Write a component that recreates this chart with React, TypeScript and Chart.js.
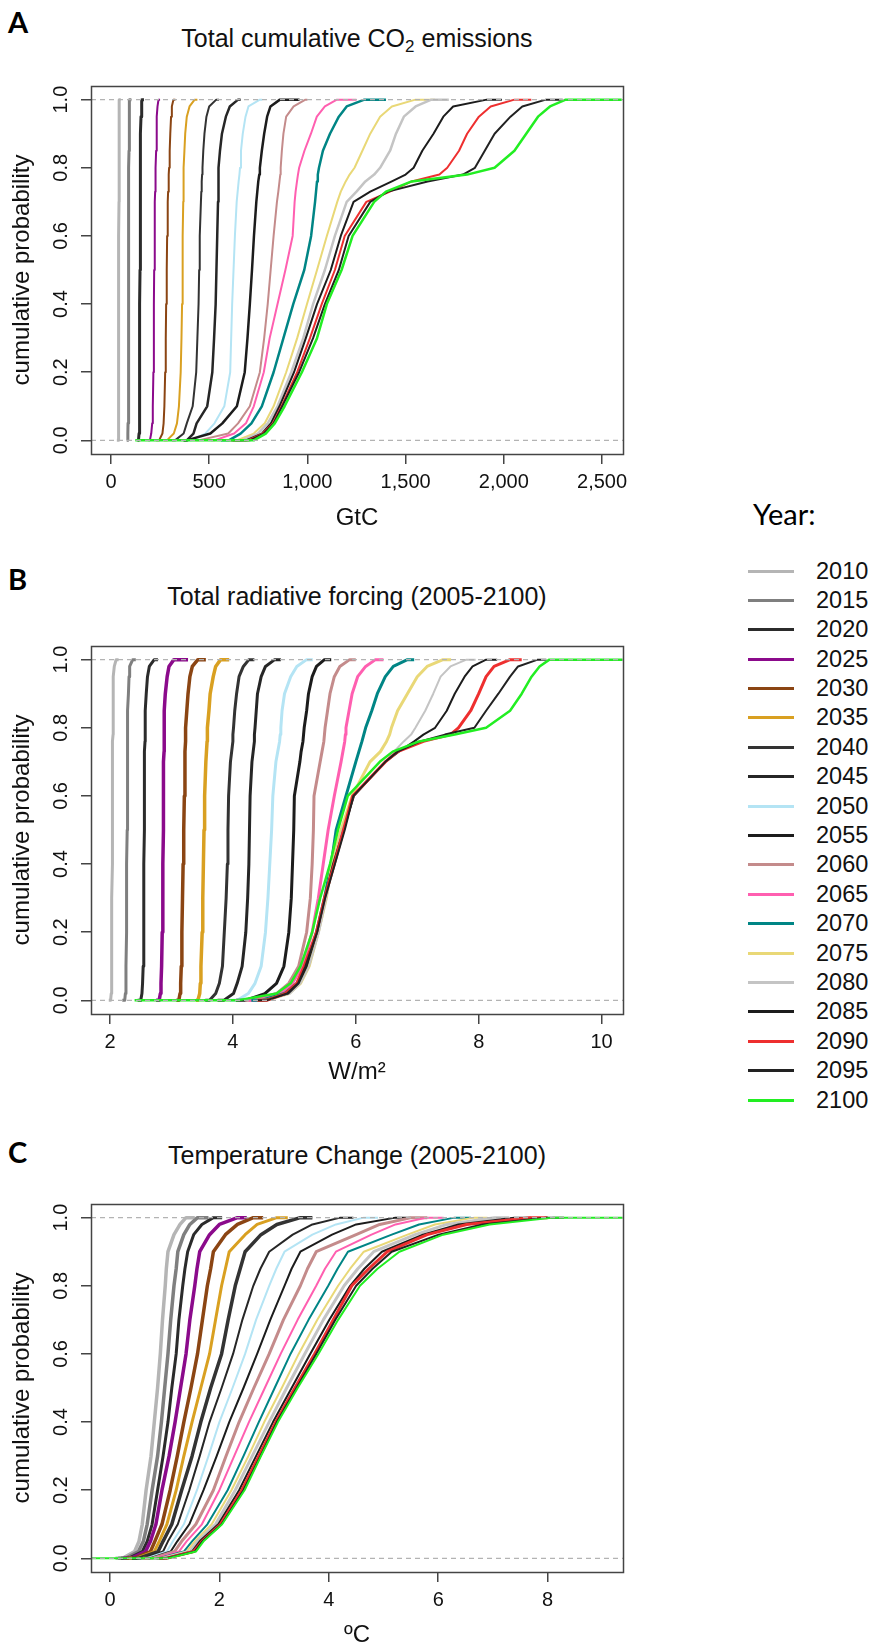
import React, { useEffect, useRef } from 'react';
import { Chart, registerables } from 'chart.js';

Chart.register(...registerables);
Chart.defaults.font.family = "'Liberation Sans', Arial, sans-serif";

// ---------- data ----------
const years = [2010, 2015, 2020, 2025, 2030, 2035, 2040, 2045, 2050, 2055, 2060, 2065, 2070, 2075, 2080, 2085, 2090, 2095, 2100];

// probability levels at which each curve's x value was read (first/last pair = horizontal tails)
const probLevelsAB = [0, 0, 0.02, 0.05, 0.1, 0.2, 0.3, 0.4, 0.5, 0.6, 0.7, 0.73, 0.76, 0.78, 0.8, 0.85, 0.9, 0.95, 0.98, 1, 1];
const probLevelsC = [0, 0, 0.02, 0.05, 0.1, 0.2, 0.3, 0.4, 0.5, 0.6, 0.7, 0.8, 0.85, 0.9, 0.95, 0.98, 1, 1];

// A: total cumulative CO2 emissions (GtC)
const emissionsGtC = [
  [30, 36, 37, 38, 38, 39, 39, 40, 40, 40, 41, 41, 41, 41, 41, 42, 42, 42, 43, 44, 50],
  [80, 84, 86, 87, 88, 88, 89, 89, 90, 90, 90, 91, 91, 91, 91, 92, 92, 93, 94, 96, 104],
  [135, 140, 143, 144, 145, 146, 147, 147, 148, 148, 149, 149, 150, 150, 150, 151, 152, 153, 155, 158, 168],
  [190, 198, 205, 210, 213, 216, 218, 219, 220, 222, 224, 225, 226, 227, 228, 230, 232, 234, 237, 242, 250],
  [230, 245, 262, 268, 272, 276, 279, 281, 284, 286, 289, 291, 293, 295, 296, 299, 302, 306, 310, 318, 328],
  [270, 285, 320, 336, 346, 355, 359, 362, 364, 366, 368, 369, 369, 370, 371, 374, 378, 386, 400, 426, 440],
  [310, 326, 370, 386, 416, 434, 440, 446, 449, 452, 458, 460, 462, 464, 466, 470, 476, 486, 500, 536, 550],
  [370, 386, 420, 436, 490, 516, 525, 533, 537, 541, 545, 546, 547, 548, 549, 555, 565, 585, 605, 647, 660],
  [390, 406, 480, 527, 577, 607, 612, 617, 624, 631, 640, 645, 650, 654, 657, 662, 671, 685, 700, 758, 770],
  [370, 386, 506, 567, 641, 681, 695, 707, 718, 728, 740, 745, 750, 755, 758, 768, 780, 795, 812, 860, 960],
  [430, 446, 597, 647, 707, 758, 780, 798, 813, 828, 845, 852, 858, 862, 864, 870, 878, 892, 930, 990, 1000],
  [510, 527, 627, 687, 727, 778, 808, 848, 888, 925, 935, 940, 947, 952, 958, 985, 1018, 1048, 1089, 1150, 1250],
  [560, 600, 660, 715, 768, 828, 878, 928, 984, 1019, 1039, 1044, 1049, 1053, 1059, 1079, 1115, 1160, 1200, 1290, 1400],
  [590, 640, 727, 783, 828, 892, 948, 998, 1049, 1099, 1152, 1170, 1195, 1215, 1240, 1280, 1320, 1370, 1430, 1550, 1650],
  [600, 667, 748, 798, 848, 918, 979, 1029, 1089, 1140, 1200, 1250, 1295, 1340, 1370, 1421, 1451, 1491, 1551, 1631, 1720],
  [610, 687, 768, 814, 858, 932, 992, 1049, 1119, 1170, 1235, 1320, 1430, 1500, 1541, 1585, 1642, 1692, 1742, 1913, 1990],
  [615, 697, 772, 824, 868, 948, 1013, 1073, 1140, 1190, 1300, 1420, 1531, 1672, 1712, 1772, 1813, 1873, 1933, 2054, 2140],
  [620, 707, 778, 828, 872, 958, 1029, 1089, 1160, 1210, 1320, 1410, 1612, 1792, 1853, 1903, 1953, 2034, 2094, 2214, 2300],
  [124, 727, 788, 834, 884, 972, 1049, 1099, 1174, 1230, 1340, 1400, 1531, 1813, 1953, 2054, 2114, 2174, 2235, 2315, 2600],
];

// B: total radiative forcing (W/m2)
const forcingWm2 = [
  [1.98, 2.01, 2.02, 2.02, 2.03, 2.03, 2.03, 2.04, 2.04, 2.04, 2.04, 2.04, 2.04, 2.05, 2.05, 2.05, 2.05, 2.06, 2.07, 2.10, 2.14],
  [2.20, 2.24, 2.25, 2.26, 2.26, 2.27, 2.27, 2.27, 2.28, 2.28, 2.28, 2.28, 2.29, 2.29, 2.29, 2.29, 2.30, 2.31, 2.32, 2.37, 2.42],
  [2.45, 2.50, 2.52, 2.53, 2.54, 2.55, 2.55, 2.55, 2.56, 2.56, 2.56, 2.56, 2.57, 2.57, 2.57, 2.58, 2.59, 2.61, 2.64, 2.72, 2.78],
  [2.75, 2.80, 2.82, 2.83, 2.84, 2.85, 2.86, 2.86, 2.87, 2.87, 2.87, 2.88, 2.88, 2.88, 2.88, 2.89, 2.90, 2.93, 2.96, 3.04, 3.27],
  [3.08, 3.12, 3.14, 3.15, 3.16, 3.17, 3.18, 3.19, 3.20, 3.21, 3.22, 3.22, 3.23, 3.23, 3.23, 3.25, 3.27, 3.30, 3.34, 3.43, 3.56],
  [3.40, 3.43, 3.46, 3.47, 3.48, 3.50, 3.51, 3.52, 3.53, 3.54, 3.56, 3.57, 3.58, 3.58, 3.59, 3.61, 3.63, 3.68, 3.72, 3.80, 3.94],
  [3.55, 3.62, 3.72, 3.78, 3.83, 3.86, 3.89, 3.91, 3.92, 3.93, 3.96, 3.98, 4.00, 4.00, 4.01, 4.03, 4.06, 4.10, 4.17, 4.26, 4.35],
  [3.75, 3.85, 4.01, 4.07, 4.15, 4.21, 4.24, 4.26, 4.27, 4.28, 4.31, 4.33, 4.35, 4.35, 4.36, 4.38, 4.40, 4.46, 4.53, 4.68, 4.78],
  [3.95, 4.07, 4.25, 4.36, 4.46, 4.53, 4.57, 4.60, 4.63, 4.65, 4.70, 4.73, 4.76, 4.77, 4.78, 4.80, 4.84, 4.94, 5.04, 5.20, 5.30],
  [4.05, 4.20, 4.52, 4.71, 4.83, 4.91, 4.95, 4.97, 4.99, 5.00, 5.09, 5.11, 5.14, 5.15, 5.16, 5.20, 5.23, 5.29, 5.36, 5.49, 5.60],
  [4.20, 4.33, 4.71, 4.91, 5.07, 5.20, 5.26, 5.29, 5.31, 5.32, 5.42, 5.45, 5.48, 5.49, 5.50, 5.54, 5.58, 5.65, 5.74, 5.90, 6.00],
  [4.25, 4.39, 4.78, 4.97, 5.13, 5.29, 5.39, 5.47, 5.55, 5.65, 5.76, 5.79, 5.82, 5.83, 5.84, 5.89, 5.94, 6.03, 6.16, 6.32, 6.45],
  [4.30, 4.46, 4.84, 5.04, 5.20, 5.36, 5.49, 5.60, 5.68, 5.84, 6.00, 6.05, 6.10, 6.13, 6.16, 6.26, 6.35, 6.48, 6.61, 6.84, 6.95],
  [4.40, 4.52, 4.91, 5.10, 5.24, 5.39, 5.52, 5.61, 5.76, 5.94, 6.23, 6.40, 6.50, 6.55, 6.58, 6.68, 6.84, 7.00, 7.16, 7.42, 7.55],
  [4.45, 4.55, 4.93, 5.10, 5.24, 5.40, 5.52, 5.63, 5.78, 5.97, 6.48, 6.62, 6.78, 6.90, 6.97, 7.13, 7.26, 7.38, 7.54, 7.80, 7.95],
  [4.40, 4.50, 4.90, 5.07, 5.20, 5.37, 5.49, 5.63, 5.80, 5.97, 6.48, 6.70, 6.95, 7.10, 7.29, 7.48, 7.61, 7.77, 7.90, 8.12, 8.30],
  [4.40, 4.55, 4.85, 5.04, 5.16, 5.36, 5.49, 5.65, 5.80, 5.95, 6.48, 6.68, 7.10, 7.54, 7.67, 7.87, 8.00, 8.12, 8.25, 8.51, 8.70],
  [4.40, 4.55, 4.88, 5.06, 5.18, 5.37, 5.50, 5.66, 5.82, 5.96, 6.48, 6.68, 7.05, 7.45, 7.93, 8.12, 8.32, 8.51, 8.64, 8.96, 9.10],
  [2.40, 4.07, 4.71, 4.94, 5.10, 5.29, 5.42, 5.58, 5.71, 5.87, 6.39, 6.60, 7.03, 7.61, 8.12, 8.51, 8.70, 8.86, 8.99, 9.15, 10.34],
];

// C: temperature change (degC)
const warmingDegC = [
  [0.10, 0.23, 0.45, 0.53, 0.59, 0.66, 0.75, 0.81, 0.87, 0.92, 0.96, 1.01, 1.03, 1.06, 1.17, 1.28, 1.39, 1.55],
  [0.15, 0.29, 0.52, 0.61, 0.68, 0.77, 0.87, 0.94, 1.00, 1.06, 1.11, 1.17, 1.21, 1.24, 1.35, 1.46, 1.60, 1.80],
  [0.20, 0.34, 0.59, 0.68, 0.77, 0.87, 0.97, 1.06, 1.13, 1.21, 1.26, 1.33, 1.37, 1.42, 1.53, 1.68, 1.89, 2.05],
  [0.25, 0.38, 0.65, 0.74, 0.84, 0.95, 1.08, 1.19, 1.29, 1.39, 1.46, 1.55, 1.59, 1.64, 1.82, 2.00, 2.33, 2.50],
  [0.30, 0.45, 0.74, 0.82, 0.95, 1.10, 1.23, 1.35, 1.48, 1.60, 1.69, 1.78, 1.84, 1.89, 2.11, 2.33, 2.62, 2.80],
  [0.35, 0.48, 0.81, 0.90, 1.04, 1.21, 1.35, 1.50, 1.66, 1.82, 1.93, 2.04, 2.11, 2.18, 2.47, 2.69, 3.05, 3.25],
  [0.40, 0.52, 0.88, 0.97, 1.13, 1.31, 1.50, 1.66, 1.84, 2.04, 2.16, 2.29, 2.38, 2.47, 2.76, 3.05, 3.48, 3.70],
  [0.45, 0.59, 0.97, 1.06, 1.24, 1.45, 1.64, 1.82, 2.04, 2.25, 2.42, 2.62, 2.75, 2.91, 3.34, 3.70, 4.21, 4.45],
  [0.50, 0.66, 1.04, 1.15, 1.35, 1.59, 1.80, 2.00, 2.24, 2.47, 2.67, 2.91, 3.04, 3.19, 3.70, 4.13, 4.64, 4.90],
  [0.55, 0.72, 1.11, 1.23, 1.45, 1.71, 1.95, 2.18, 2.44, 2.69, 2.93, 3.19, 3.32, 3.48, 4.06, 4.50, 5.22, 5.50],
  [0.60, 0.77, 1.18, 1.31, 1.57, 1.89, 2.12, 2.36, 2.63, 2.91, 3.17, 3.48, 3.61, 3.77, 4.50, 4.93, 5.51, 5.80],
  [0.65, 0.82, 1.26, 1.40, 1.68, 2.00, 2.27, 2.54, 2.83, 3.12, 3.43, 3.77, 3.93, 4.13, 4.78, 5.22, 5.79, 6.10],
  [0.70, 0.88, 1.35, 1.50, 1.78, 2.15, 2.44, 2.72, 3.01, 3.30, 3.63, 3.99, 4.16, 4.35, 5.15, 5.65, 6.30, 6.60],
  [0.75, 0.92, 1.40, 1.55, 1.86, 2.22, 2.53, 2.82, 3.14, 3.45, 3.79, 4.17, 4.39, 4.64, 5.44, 5.94, 6.66, 6.90],
  [0.80, 0.95, 1.46, 1.60, 1.93, 2.29, 2.60, 2.91, 3.23, 3.56, 3.90, 4.28, 4.53, 4.82, 5.58, 6.16, 7.03, 7.30],
  [0.85, 0.99, 1.50, 1.64, 1.98, 2.36, 2.67, 2.98, 3.32, 3.66, 4.01, 4.39, 4.65, 4.97, 5.72, 6.37, 7.39, 7.70],
  [0.90, 1.03, 1.53, 1.68, 2.02, 2.41, 2.72, 3.03, 3.38, 3.74, 4.08, 4.42, 4.73, 5.07, 5.80, 6.52, 7.68, 8.00],
  [0.90, 1.03, 1.55, 1.69, 2.04, 2.44, 2.75, 3.05, 3.41, 3.77, 4.12, 4.50, 4.80, 5.15, 6.01, 6.81, 7.97, 8.30],
  [-0.34, 1.06, 1.57, 1.71, 2.05, 2.46, 2.76, 3.07, 3.43, 3.81, 4.17, 4.57, 4.89, 5.29, 6.09, 6.94, 8.11, 9.37],
];

const emissionsTicks = [0, 500, 1000, 1500, 2000, 2500];
const forcingTicks = [2, 4, 6, 8, 10];
const warmingTicks = [0, 2, 4, 6, 8];
const probTicks = [0, 0.2, 0.4, 0.6, 0.8, 1.0];
const emissionsRange = [-101.6, 2606.7];
const forcingRange = [1.691, 10.348];
const warmingRange = [-0.347, 9.378];
const probRange = [-0.04, 1.04];

// ---------- styles ----------
const yearColors = [
  '#b5b5b5', '#7f7f7f', '#2b2b2b', '#8b0a8b', '#8b4513', '#d9a021', '#333333', '#262626', '#b4e4f4', '#1c1c1c',
  '#c48b8b', '#ff5fb0', '#008585', '#e9d877', '#c4c4c4', '#1c1c1c', '#ee2f2f', '#222222', '#22ee22',
];
const widthsA = [3, 3, 3, 2, 2, 2, 2, 2.5, 2, 2.5, 2, 2, 2.5, 2, 2.5, 2, 2, 2, 2.5];
const widthsB = [3, 3, 3, 3.5, 3.5, 3.5, 3, 3, 3, 3, 3, 3, 3, 3, 2, 2, 3, 2, 2.5];
const widthsC = [3.5, 3.5, 3, 3.5, 3.5, 3, 3.5, 2, 2, 2, 3, 2, 2, 2, 3, 2, 3, 2, 2];

const CANVAS_W = 640;
const CANVAS_H = 466;
const TEXT = '#111111';
const AXIS = '#444444';

type PanelDef = {
  canvasTop: number;
  quantiles: number[][];
  levels: number[];
  widths: number[];
  xTicks: number[];
  xRange: number[];
  xTitle: string;
  xTitlePad: number;
  fmt: (v: number) => string;
};

const panels: PanelDef[] = [
  {
    canvasTop: 68, quantiles: emissionsGtC, levels: probLevelsAB, widths: widthsA, xTicks: emissionsTicks,
    xRange: emissionsRange, xTitle: 'GtC', xTitlePad: 1, fmt: (v) => v.toLocaleString('en-US'),
  },
  {
    canvasTop: 628, quantiles: forcingWm2, levels: probLevelsAB, widths: widthsB, xTicks: forcingTicks,
    xRange: forcingRange, xTitle: 'W/m²', xTitlePad: 7, fmt: (v) => String(v),
  },
  {
    canvasTop: 1186, quantiles: warmingDegC, levels: probLevelsC, widths: widthsC, xTicks: warmingTicks,
    xRange: warmingRange, xTitle: 'ºC', xTitlePad: 2, fmt: (v) => String(v),
  },
];

const boxPlugin = {
  id: 'plotBox',
  afterDraw(chart: any) {
    const { ctx, chartArea: a } = chart;
    ctx.save();
    ctx.strokeStyle = AXIS;
    ctx.lineWidth = 1.5;
    ctx.strokeRect(Math.round(a.left) + 0.5, Math.round(a.top) + 0.5, Math.round(a.right - a.left), Math.round(a.bottom - a.top));
    ctx.restore();
  },
};

function makeConfig(p: PanelDef): any {
  const datasets: any[] = years.map((yr, i) => ({
    label: String(yr),
    data: p.levels.map((lv, k) => ({ x: p.quantiles[i][k], y: lv })),
    showLine: true,
    borderColor: yearColors[i],
    backgroundColor: yearColors[i],
    borderWidth: p.widths[i],
    borderJoinStyle: 'round',
    pointRadius: 0,
    pointHoverRadius: 0,
    fill: false,
    tension: 0,
    order: 100 - i,
  }));
  [0, 1].forEach((lvl) => {
    datasets.push({
      label: 'ref' + lvl,
      data: [{ x: p.xRange[0], y: lvl }, { x: p.xRange[1], y: lvl }],
      showLine: true,
      borderColor: '#b3b3b3',
      borderWidth: 1.2,
      borderDash: [5, 4],
      pointRadius: 0,
      fill: false,
      order: 0,
    });
  });
  const grid = { drawOnChartArea: false, drawTicks: true, tickLength: 10, color: AXIS, lineWidth: 1.5 };
  return {
    type: 'scatter',
    data: { datasets },
    plugins: [boxPlugin],
    options: {
      animation: false,
      responsive: false,
      maintainAspectRatio: false,
      events: [],
      layout: { padding: { top: 10, right: CANVAS_W - 623, left: 0, bottom: 0 } },
      plugins: { legend: { display: false }, tooltip: { enabled: false }, title: { display: false } },
      scales: {
        x: {
          type: 'linear',
          min: p.xRange[0],
          max: p.xRange[1],
          afterBuildTicks: (s: any) => { s.ticks = p.xTicks.map((v) => ({ value: v })); },
          afterFit: (s: any) => { s.height = 80; },
          grid,
          border: { display: false },
          ticks: {
            autoSkip: false, maxRotation: 0, minRotation: 0, padding: 6, color: TEXT,
            font: { size: 20 }, callback: (v: any) => p.fmt(Number(v)),
          },
          title: { display: true, text: p.xTitle, color: TEXT, font: { size: 24 }, padding: { top: 0, bottom: p.xTitlePad } },
        },
        y: {
          type: 'linear',
          min: probRange[0],
          max: probRange[1],
          afterBuildTicks: (s: any) => { s.ticks = probTicks.map((v) => ({ value: v })); },
          afterFit: (s: any) => { s.width = 91; },
          grid,
          border: { display: false },
          ticks: {
            autoSkip: false, minRotation: 90, maxRotation: 90, crossAlign: 'center', padding: 6, color: TEXT,
            font: { size: 20 }, callback: (v: any) => Number(v).toFixed(1),
          },
          title: { display: true, text: 'cumulative probability', color: TEXT, font: { size: 24 }, padding: { top: 8, bottom: 0 } },
        },
      },
    },
  };
}

const titleStyle: React.CSSProperties = {
  position: 'absolute', left: 91, width: 532, textAlign: 'center', fontFamily: "'Liberation Sans', Arial, sans-serif",
  fontSize: 25, lineHeight: '25px', color: TEXT, whiteSpace: 'nowrap',
};
const letterStyle: React.CSSProperties = {
  position: 'absolute', left: 8, fontFamily: 'Lato, sans-serif', fontWeight: 700, fontSize: 29, lineHeight: '29px', color: '#000',
};

export default function App() {
  const refA = useRef<HTMLCanvasElement>(null);
  const refB = useRef<HTMLCanvasElement>(null);
  const refC = useRef<HTMLCanvasElement>(null);

  useEffect(() => {
    document.body.style.margin = '0';
    document.body.style.overflow = 'hidden';
    const refs = [refA, refB, refC];
    const charts = panels.map((p, i) => new Chart(refs[i].current as HTMLCanvasElement, makeConfig(p)));
    return () => charts.forEach((c) => c.destroy());
  }, []);

  const refs = [refA, refB, refC];
  const legendTop = 571;
  const legendStep = 29.39;

  return (
    <div style={{ position: 'absolute', left: 0, top: 0, width: 871, height: 1649, overflow: 'hidden', background: '#fff' }}>
      {panels.map((p, i) => (
        <canvas key={i} ref={refs[i]} width={CANVAS_W} height={CANVAS_H}
          style={{ position: 'absolute', left: 0, top: p.canvasTop, width: CANVAS_W, height: CANVAS_H }} />
      ))}

      <div style={{ ...letterStyle, top: 7 }}>A</div>
      <div style={{ ...letterStyle, top: 564 }}>B</div>
      <div style={{ ...letterStyle, top: 1137 }}>C</div>

      <div style={{ ...titleStyle, top: 26 }}>
        Total cumulative CO<span style={{ fontSize: 17, verticalAlign: '-5px', lineHeight: 0 }}>2</span> emissions
      </div>
      <div style={{ ...titleStyle, top: 584 }}>Total radiative forcing (2005-2100)</div>
      <div style={{ ...titleStyle, top: 1143 }}>Temperature Change (2005-2100)</div>

      <div style={{ position: 'absolute', left: 753, top: 499, fontFamily: 'Lato, sans-serif', fontSize: 29, lineHeight: '29px', color: '#000' }}>
        Year:
      </div>
      {years.map((yr, i) => {
        const cy = legendTop + i * legendStep;
        return (
          <React.Fragment key={yr}>
            <div style={{ position: 'absolute', left: 748, top: Math.round(cy - 1.5), width: 46, height: 3, background: yearColors[i] }} />
            <div style={{
              position: 'absolute', left: 816, top: cy - 11.5, fontFamily: "'Liberation Sans', Arial, sans-serif",
              fontSize: 23.5, lineHeight: '23.5px', color: TEXT,
            }}>{yr}</div>
          </React.Fragment>
        );
      })}
    </div>
  );
}
